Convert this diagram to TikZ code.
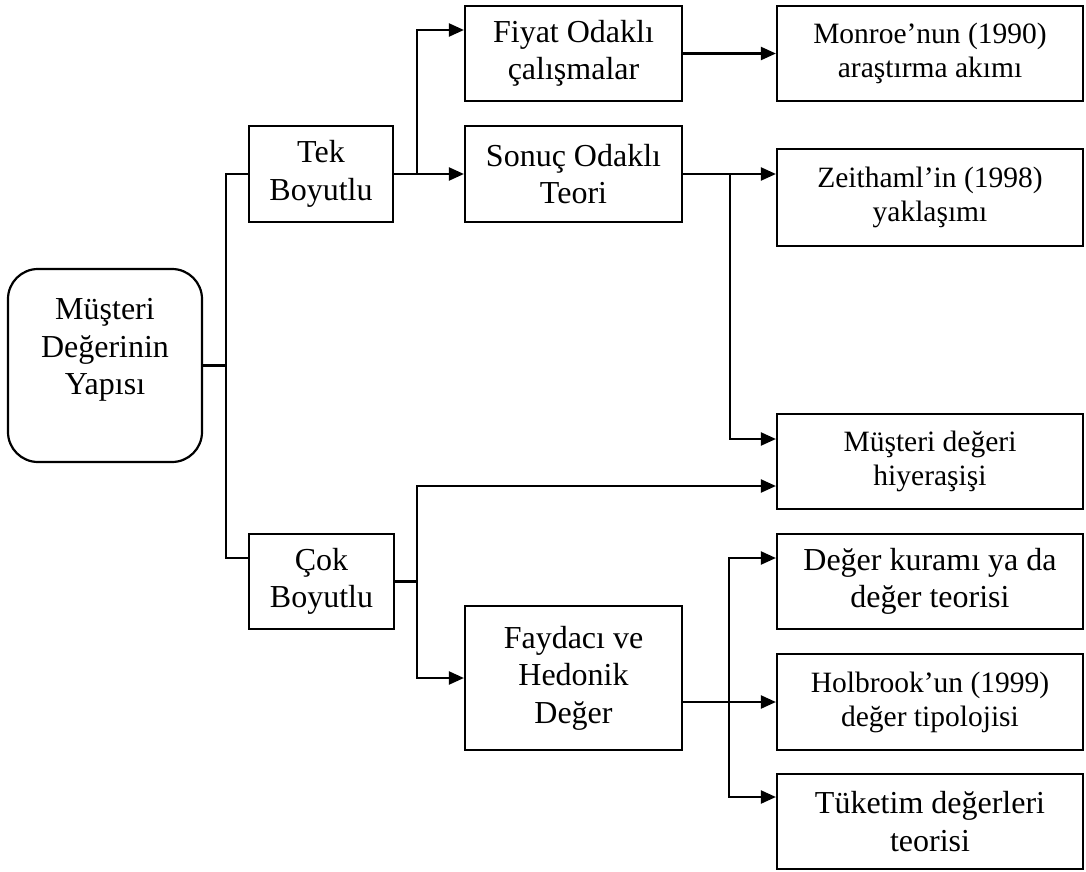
\documentclass[tikz,border=0pt]{standalone}
\usepackage{fontspec}
\setmainfont{Liberation Serif}
\usetikzlibrary{arrows.meta}
\tikzset{
  box/.style={draw=black, line width=2.2pt, rectangle, align=center, inner sep=0pt},
  bigtxt/.style={font=\fontsize{32}{37.5}\selectfont},
  smalltxt/.style={font=\fontsize{29.5}{34}\selectfont},
  conn/.style={line width=2.2pt, draw=black},
  arr/.style={conn, -{Triangle[length=15pt, width=13pt]}}
}
\begin{document}
\begin{tikzpicture}[x=1pt, y=-1pt]
\useasboundingbox (0,0) rectangle (1086,872);
% boxes
\node[box, rounded corners=30pt, minimum width=194pt, minimum height=193pt] (root) at (105,365.5) {};
\node[bigtxt, align=center, anchor=north] (roottxt) at (105,295) {Müşteri\\Değerinin\\Yapısı};
\node[box, bigtxt, minimum width=144pt, minimum height=96pt] (tek) at (321,174) {Tek\\Boyutlu};
\node[box, bigtxt, minimum width=145pt, minimum height=95pt] (cok) at (321.5,581.5) {Çok\\Boyutlu};
\node[box, bigtxt, minimum width=217pt, minimum height=95pt] (fiyat) at (573.5,53.5) {Fiyat Odaklı\\çalışmalar};
\node[box, bigtxt, minimum width=217pt, minimum height=96pt] (sonuc) at (573.5,174) {Sonuç Odaklı\\Teori};
\node[box, bigtxt, minimum width=217pt, minimum height=144pt] (fayda) at (573.5,678) {Faydacı ve\\Hedonik\\Değer};
\node[box, smalltxt, minimum width=306pt, minimum height=95pt] (monroe) at (930,53.5) {Monroe’nun (1990)\\araştırma akımı};
\node[box, smalltxt, minimum width=306pt, minimum height=97pt] (zeit) at (930,197.5) {Zeithaml’in (1998)\\yaklaşımı};
\node[box, smalltxt, minimum width=306pt, minimum height=95pt] (mdh) at (930,461.5) {Müşteri değeri\\hiyeraşişi};
\node[box, bigtxt, minimum width=306pt, minimum height=95pt] (dk) at (930,581.5) {Değer kuramı ya da\\değer teorisi};
\node[box, smalltxt, minimum width=306pt, minimum height=96pt] (hol) at (930,702) {Holbrook’un (1999)\\değer tipolojisi};
\node[box, bigtxt, minimum width=306pt, minimum height=95pt] (tuk) at (930,821.5) {Tüketim değerleri\\teorisi};
% junction coordinates
\coordinate (rj) at (226,365.5);
\coordinate (cin) at (226,558);
\coordinate (tj) at (417,174);
\coordinate (sj) at (730,174);
\coordinate (cj) at (417,581.5);
\coordinate (fj) at (729,702);
% connectors
\draw[conn] (root.east) -- (rj);
\draw[conn] (tek.west) -| (cin) -- (cin -| cok.west);
\draw[arr] (tek.east) -- (sonuc.west);
\draw[arr] (tj) |- ([yshift=23.5pt]fiyat.west);
\draw[arr] (fiyat.east) -- (monroe.west);
\draw[arr] (sonuc.east) -- (sonuc.east -| zeit.west);
\draw[arr] (sj) |- ([yshift=22.5pt]mdh.west);
\draw[conn] (cok.east) -- (cj);
\draw[arr] (cj) |- ([yshift=-24.5pt]mdh.west);
\draw[arr] (cj) |- (fayda.west);
\draw[arr] ([yshift=-24pt]fayda.east) -- (hol.west);
\draw[arr] (fj) |- ([yshift=23.5pt]dk.west);
\draw[arr] (fj) |- ([yshift=24.5pt]tuk.west);
\end{tikzpicture}
\end{document}
